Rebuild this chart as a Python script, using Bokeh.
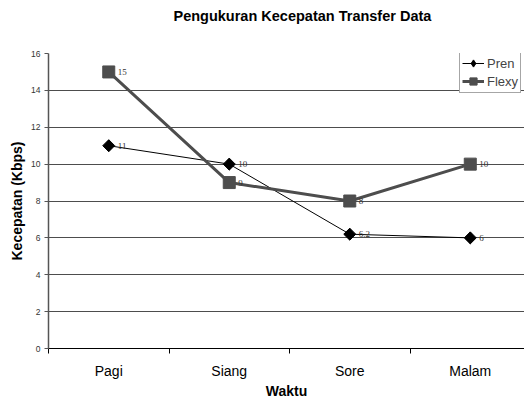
import math
from bokeh.plotting import figure
from bokeh.models import FixedTicker, Range1d, Legend, LegendItem, ColumnDataSource, Title
from bokeh.embed import file_html
from bokeh.resources import INLINE

categories = ["Pagi", "Siang", "Sore", "Malam"]
pren = [11, 10, 6.2, 6]
flexy = [15, 9, 8, 10]
pren_labels = ["11", "10", "6.2", "6"]
flexy_labels = ["15", "9", "8", "10"]
y_ticks = [0, 2, 4, 6, 8, 10, 12, 14, 16]

xpos = [i + 0.5 for i in range(len(categories))]

p = figure(width=524, height=401, output_backend="svg", toolbar_location=None,
           x_range=Range1d(0, 3.95), y_range=Range1d(0, 16),
           min_border_left=48, min_border_right=0, min_border_top=53, min_border_bottom=52)
p.background_fill_color = "white"
p.border_fill_color = "white"
p.outline_line_color = None

p.title.text = "Pengukuran Kecepatan Transfer Data"
p.title.text_font = "Liberation Sans"
p.title.text_font_size = "14.5px"
p.title.text_font_style = "bold"
p.title.text_color = "black"
p.title.align = "left"
p.title.offset = 125

spacer = Title(text=" ", text_font_size="21px", standoff=0)
p.add_layout(spacer, "above")

# x axis
p.xaxis.ticker = FixedTicker(ticks=xpos, minor_ticks=[0, 1, 2, 3, 4])
p.xaxis.major_label_overrides = {x: c for x, c in zip(xpos, categories)}
p.xaxis.major_tick_out = 0
p.xaxis.major_tick_in = 0
p.xaxis.minor_tick_out = 5
p.xaxis.minor_tick_in = 0
p.xaxis.minor_tick_line_color = "black"
p.xaxis.major_label_text_font = "Liberation Sans"
p.xaxis.major_label_text_font_size = "14px"
p.xaxis.major_label_text_color = "black"
p.xaxis.major_label_standoff = 9
p.xaxis.axis_label = "Waktu"
p.xaxis.axis_label_text_font = "Liberation Sans"
p.xaxis.axis_label_text_font_size = "14px"
p.xaxis.axis_label_text_font_style = "bold"
p.xaxis.axis_label_text_color = "black"
p.xaxis.axis_label_standoff = 1
p.xaxis.axis_line_color = "black"

# y axis
p.yaxis.ticker = FixedTicker(ticks=y_ticks)
p.yaxis.minor_tick_line_color = None
p.yaxis.major_tick_out = 4
p.yaxis.major_tick_in = 0
p.yaxis.major_tick_line_color = "#555555"
p.yaxis.axis_line_color = "#555555"
p.yaxis.axis_line_width = 1.5
p.yaxis.major_label_text_font = "Liberation Sans"
p.yaxis.major_label_text_font_size = "8.5px"
p.yaxis.major_label_text_color = "#333333"
p.yaxis.major_label_standoff = 4
p.yaxis.axis_label = "Kecepatan (Kbps)"
p.yaxis.axis_label_text_font = "Liberation Sans"
p.yaxis.axis_label_text_font_size = "14px"
p.yaxis.axis_label_text_font_style = "bold"
p.yaxis.axis_label_text_color = "black"
p.yaxis.axis_label_standoff = 3

p.xgrid.grid_line_color = None
p.ygrid.ticker = FixedTicker(ticks=y_ticks)
p.ygrid.grid_line_color = "#4d4d4d"
p.ygrid.grid_line_width = 1

src_p = ColumnDataSource(dict(x=xpos, y=pren, t=pren_labels))
src_f = ColumnDataSource(dict(x=xpos, y=flexy, t=flexy_labels))

lp = p.line("x", "y", source=src_p, line_color="black", line_width=1)
# diamond (used by the legend) covered by a rotated square for a balanced shape
mp = p.scatter("x", "y", source=src_p, marker="diamond", size=11, line_width=1,
               fill_color="black", line_color="black")
p.scatter("x", "y", source=src_p, marker="square", angle=math.pi / 4, size=8.5,
          fill_color="black", line_color="black")
lf = p.line("x", "y", source=src_f, line_color="#4d4d4d", line_width=3)
mf = p.scatter("x", "y", source=src_f, marker="square", size=12, fill_color="#4d4d4d", line_color="#4d4d4d")

p.text("x", "y", text="t", source=src_p, x_offset=9, text_baseline="middle",
       text_font_size="9px", text_color="#333333", text_font="Liberation Sans")
p.text("x", "y", text="t", source=src_f, x_offset=9, text_baseline="middle",
       text_font_size="9px", text_color="#333333", text_font="Liberation Sans")

legend = Legend(items=[LegendItem(label="Pren", renderers=[lp, mp]),
                       LegendItem(label="Flexy", renderers=[lf, mf])],
                location=(411, 255), orientation="vertical")
legend.label_text_font = "Liberation Sans"
legend.label_text_font_size = "13px"
legend.label_standoff = 3
legend.glyph_width = 22
legend.glyph_height = 18
legend.label_height = 18
legend.spacing = 0
legend.padding = 2
legend.margin = 0
legend.border_line_color = "#4d4d4d"
legend.background_fill_alpha = 1
p.add_layout(legend, "center")

open("out.html", "w").write(file_html(p, INLINE))
